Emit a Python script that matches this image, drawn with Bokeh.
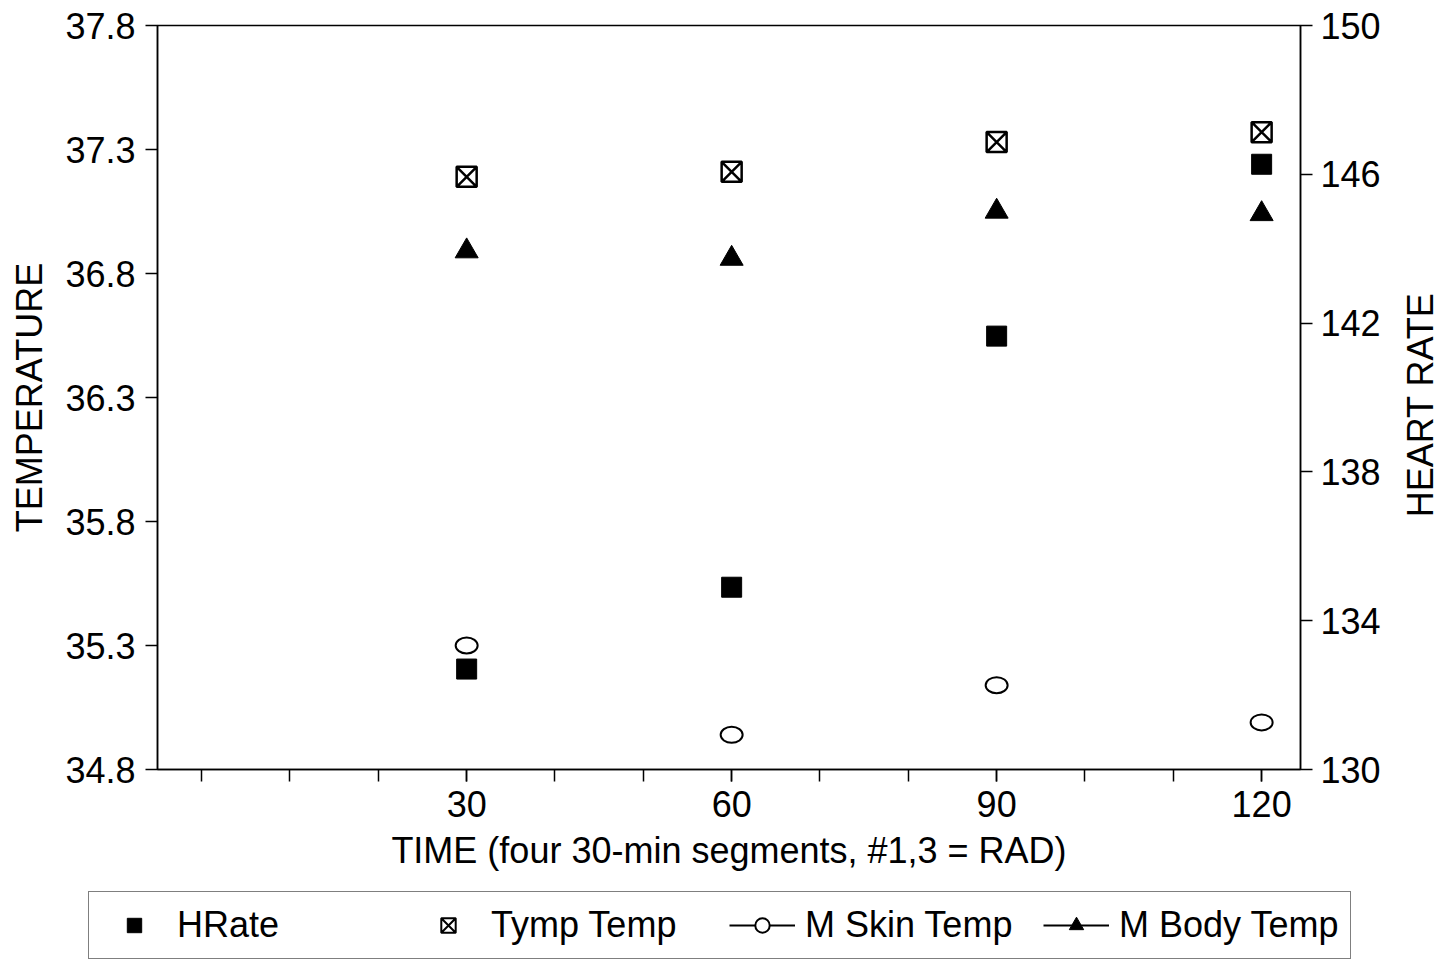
from bokeh.plotting import figure
from bokeh.models import Range1d, LinearAxis, FixedTicker, Legend, LegendItem, Label
from bokeh.layouts import column, row
from bokeh.embed import file_html
from bokeh.resources import INLINE
import math

# ---- data ----
time = [30, 60, 90, 120]
hrate = [132.7, 134.9, 141.65, 146.27]
tymp_temp = [37.19, 37.21, 37.33, 37.37]
skin_temp = [35.30, 34.94, 35.14, 34.99]
body_temp = [36.89, 36.86, 37.05, 37.04]

temp_ticks = [34.8, 35.3, 35.8, 36.3, 36.8, 37.3, 37.8]
hr_ticks = [130, 134, 138, 142, 146, 150]
time_ticks = [30, 60, 90, 120]
time_minor = [0, 10, 20, 30, 40, 50, 60, 70, 80, 90, 100, 110, 120]

FONT = "Liberation Sans"
FS = "36px"

# ---------------- main plot ----------------
p = figure(width=1398, height=878,
           x_range=Range1d(-5, 124.4), y_range=Range1d(34.8, 37.8),
           output_backend="svg", toolbar_location=None,
           min_border_left=157, min_border_right=98,
           min_border_top=25, min_border_bottom=109)
p.grid.visible = False
p.outline_line_color = "black"
p.outline_line_width = 1.5
p.background_fill_color = "white"
p.border_fill_color = "white"

p.extra_y_ranges = {"hr": Range1d(130, 150)}

def style_axis(ax):
    ax.axis_line_color = "black"
    ax.axis_line_width = 1.5
    ax.major_tick_line_color = "black"
    ax.major_tick_line_width = 1.5
    ax.minor_tick_line_color = "black"
    ax.minor_tick_line_width = 1.5
    ax.major_tick_in = 0
    ax.major_tick_out = 12
    ax.minor_tick_in = 0
    ax.minor_tick_out = 12
    ax.major_label_text_font = FONT
    ax.major_label_text_font_size = FS
    ax.major_label_text_color = "black"
    ax.axis_label_text_font = FONT
    ax.axis_label_text_font_size = FS
    ax.axis_label_text_font_style = "normal"
    ax.axis_label_text_color = "black"

xa = p.xaxis[0]
xa.ticker = FixedTicker(ticks=time_ticks, minor_ticks=time_minor)
xa.axis_label = "TIME (four 30-min segments, #1,3 = RAD)"
style_axis(xa)
xa.major_label_standoff = 9
xa.axis_label_standoff = 10

ya = p.yaxis[0]
ya.ticker = FixedTicker(ticks=temp_ticks, minor_ticks=[])
ya.axis_label = "TEMPERATURE"
style_axis(ya)
ya.major_label_standoff = 10
ya.axis_label_standoff = 12

ra = LinearAxis(y_range_name="hr", ticker=FixedTicker(ticks=hr_ticks, minor_ticks=[]))
style_axis(ra)
ra.major_label_standoff = 8
p.add_layout(ra, "right")

r_hr = p.scatter(time, hrate, y_range_name="hr", marker="square", size=20,
                 fill_color="black", line_color="black")
r_tymp = p.scatter(time, tymp_temp, marker="square_x", size=20,
                   fill_color="white", line_color="black", line_width=2.5)
r_skin = p.ellipse(time, skin_temp, width=22, height=16,
                   width_units="screen", height_units="screen",
                   fill_color="white", line_color="black", line_width=2)
r_body = p.scatter(time, body_temp, marker="triangle", size=23,
                   fill_color="black", line_color="black")

# ---------------- right axis title strip ----------------
p3 = figure(width=50, height=878, x_range=Range1d(0, 1), y_range=p.y_range,
            output_backend="svg", toolbar_location=None,
            x_axis_location=None, y_axis_location=None,
            min_border_left=0, min_border_right=0,
            min_border_top=25, min_border_bottom=109)
p3.grid.visible = False
p3.outline_line_color = None
p3.add_layout(Label(x=0.44, y=(temp_ticks[0] + temp_ticks[-1]) / 2 - 0.03,
                    text="HEART RATE", angle=math.pi / 2,
                    text_align="center", text_baseline="middle",
                    text_font=FONT, text_font_size=FS, text_color="black"))

# ---------------- legend strip ----------------
# its own renderers lie outside this strip's ranges, so they draw nothing
# here; they only lend their styles to the legend glyphs
p2 = figure(width=1448, height=81, x_range=Range1d(0, 1), y_range=Range1d(0, 1),
            output_backend="svg", toolbar_location=None,
            x_axis_location=None, y_axis_location=None,
            min_border_left=0, min_border_right=0,
            min_border_top=0, min_border_bottom=0)
p2.grid.visible = False
p2.outline_line_color = None

l_hr = p2.scatter(time, hrate, marker="square", size=20,
                  fill_color="black", line_color="black")
l_tymp = p2.scatter(time, tymp_temp, marker="square_x", size=20,
                    fill_color="white", line_color="black", line_width=2)
l_skin_ln = p2.line(time, skin_temp, line_color="black", line_width=2)
l_skin = p2.scatter(time, skin_temp, marker="circle", size=20,
                    fill_color="white", line_color="black", line_width=2)
l_body_ln = p2.line(time, body_temp, line_color="black", line_width=2)
l_body = p2.scatter(time, body_temp, marker="triangle", size=23,
                    fill_color="black", line_color="black")

legend = Legend(items=[
    LegendItem(label="HRate", renderers=[l_hr]),
    LegendItem(label="Tymp Temp", renderers=[l_tymp]),
    LegendItem(label="M Skin Temp", renderers=[l_skin_ln, l_skin]),
    LegendItem(label="M Body Temp", renderers=[l_body_ln, l_body]),
], orientation="horizontal", location=(88, 0),
   glyph_width=66, glyph_height=36, label_standoff=10, label_width=213,
   spacing=25, padding=12, margin=0,
   border_line_color="black", border_line_width=1.5,
   label_text_font=FONT, label_text_font_size=FS, label_text_color="black",
   background_fill_color="white", background_fill_alpha=1.0)
p2.add_layout(legend, "center")

layout = column(row(p, p3, spacing=0), p2, spacing=0)

open("out.html", "w").write(file_html(layout, INLINE))
